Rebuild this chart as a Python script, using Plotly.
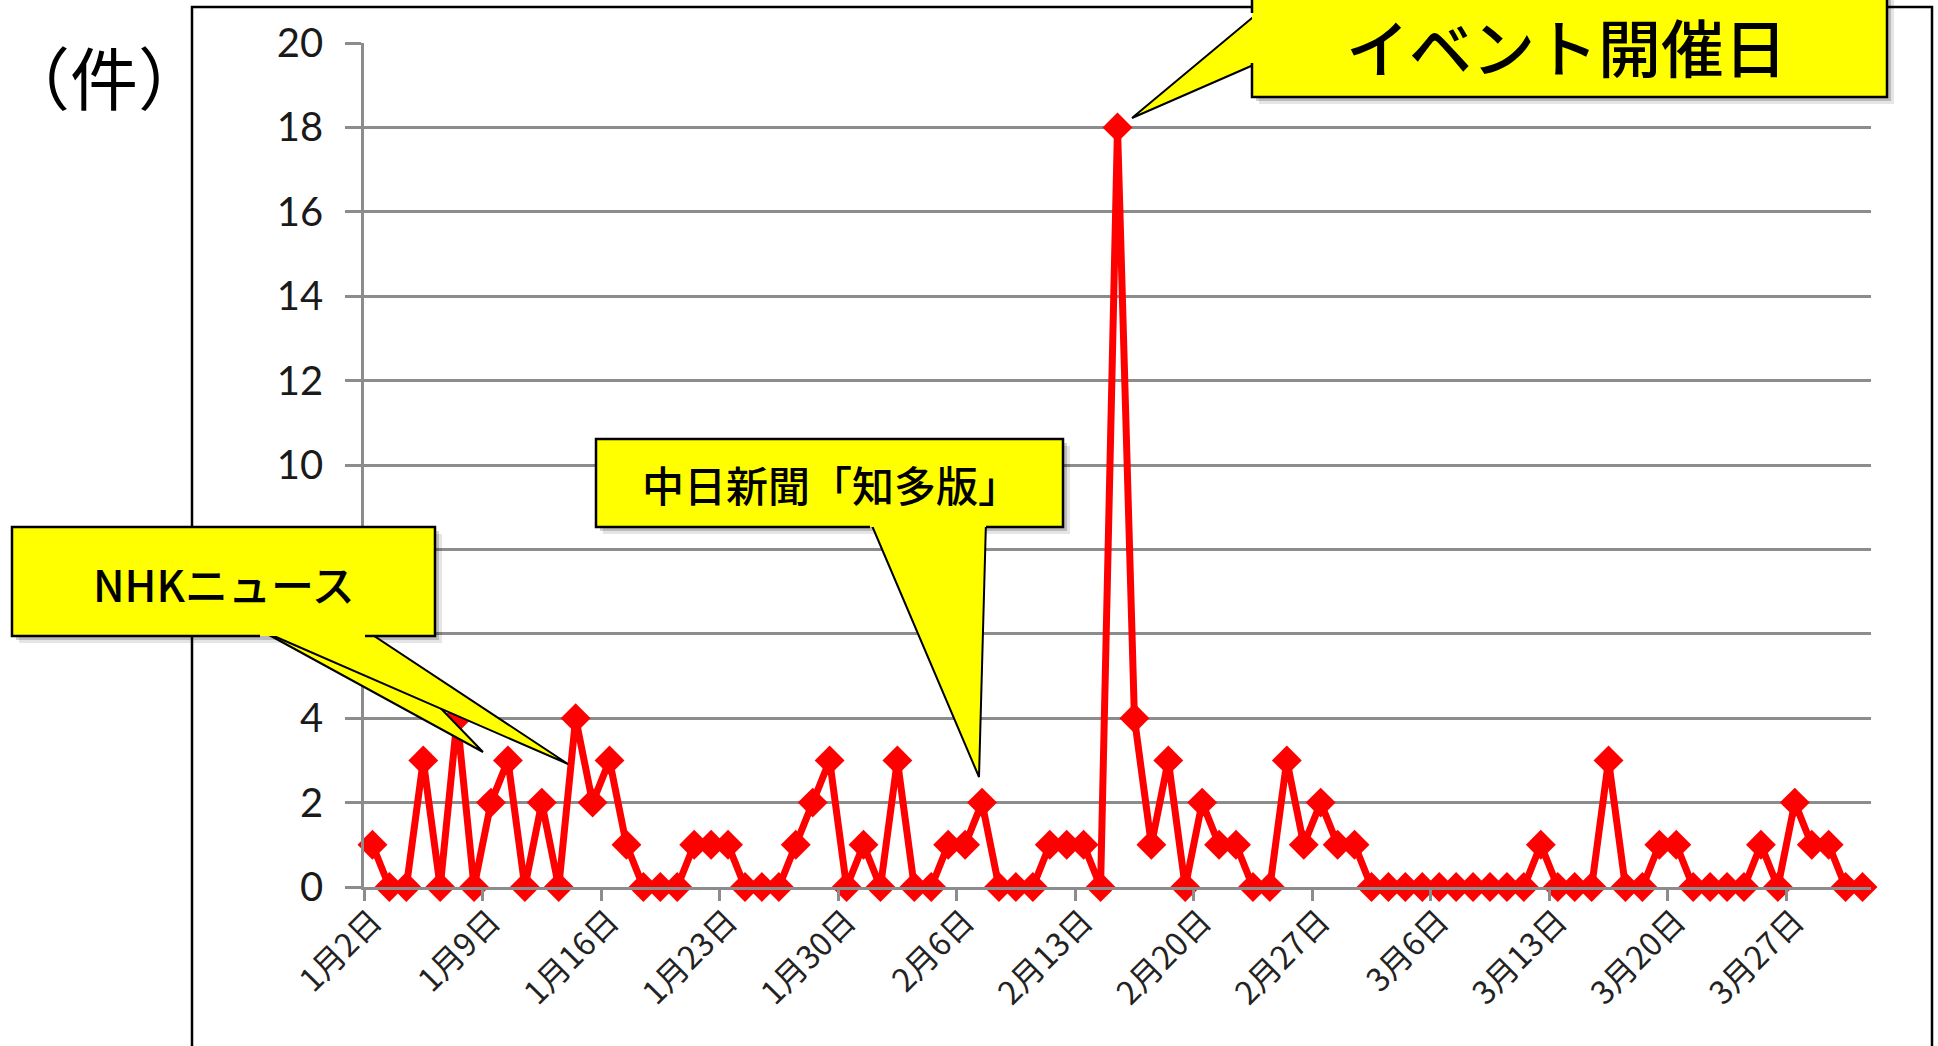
import plotly.graph_objects as go
import pandas as pd

# ---- data ----
start_date = "2011-01-02"
end_date = "2011-03-31"
jan_counts = [1, 0, 0, 3, 0, 4, 0, 2, 3, 0, 2, 0, 4, 2, 3, 1, 0, 0, 0, 1,
              1, 1, 0, 0, 0, 1, 2, 3, 0, 1]                      # Jan 2 - Jan 31
feb_counts = [0, 3, 0, 0, 1, 1, 2, 0, 0, 0, 1, 1, 1, 0, 18, 4, 1, 3, 0, 2,
              1, 1, 0, 0, 3, 1, 2, 1]                            # Feb 1 - Feb 28
mar_counts = [1, 0, 0, 0, 0, 0, 0, 0, 0, 0, 0, 1, 0, 0, 0, 3, 0, 0, 1, 1,
              0, 0, 0, 0, 1, 0, 2, 1, 1, 0, 0]                   # Mar 1 - Mar 31
y_tick_values = [0, 2, 4, 6, 8, 10, 12, 14, 16, 18, 20]
unit_label = "（件）"
callout_event = "イベント開催日"
callout_chunichi = "中日新聞「知多版」"
callout_nhk = "NHKニュース"

dates = pd.date_range(start_date, end_date, freq="D")
counts = jan_counts + feb_counts + mar_counts
label_dates = dates[::7]
label_text = [f"{d.month}月{d.day}日" for d in label_dates]

# ---- layout geometry (pixels) ----
W, H = 1938, 1046
X0, X1 = 364, 1871
YB, YT = 887, 43


def px(x):
    return (x - X0) / (X1 - X0)


def py(y):
    return (YB - y) / (YB - YT)


def path(points, close=True):
    s = "M " + " L ".join(f"{px(x):.5f},{py(y):.5f}" for x, y in points)
    return s + (" Z" if close else "")


YELLOW = "#ffff00"
shapes = []


def rect(x0, y0, x1, y1, **kw):
    shapes.append(dict(type="rect", xref="paper", yref="paper",
                       x0=px(x0), x1=px(x1), y0=py(y1), y1=py(y0), **kw))


def poly(points, close=True, **kw):
    shapes.append(dict(type="path", xref="paper", yref="paper",
                       path=path(points, close), **kw))


def shadow(x0, y0, x1, y1):
    rect(x0 + 7, y0 + 7, x1 + 7, y1 + 7, fillcolor="rgba(0,0,0,0.10)", line=dict(width=0))
    rect(x0 + 4, y0 + 4, x1 + 4, y1 + 4, fillcolor="rgba(0,0,0,0.18)", line=dict(width=0))


wedge_style = dict(fillcolor=YELLOW, line=dict(color="black", width=2))
border_style = dict(line=dict(color="black", width=2.5))

# outer frame
rect(192, 7, 1932, 1080, line=dict(color="black", width=2.5), fillcolor="rgba(0,0,0,0)")

# NHK callout
shadow(12, 527, 435, 636)
poly([(260, 630), (483, 752), (365, 630)], **wedge_style)
poly([(260, 630), (568, 764), (365, 630)], **wedge_style)
rect(12, 527, 435, 636, fillcolor=YELLOW, line=dict(width=0))
poly([(260, 636), (12, 636), (12, 527), (435, 527), (435, 636), (365, 636)], close=False, **border_style)

# Chunichi callout
shadow(596, 439, 1063, 527)
poly([(870, 521), (979, 777), (986, 521)], **wedge_style)
rect(596, 439, 1063, 527, fillcolor=YELLOW, line=dict(width=0))
poly([(870, 527), (596, 527), (596, 439), (1063, 439), (1063, 527), (986, 527)], close=False, **border_style)

# Event callout
shadow(1252, -20, 1887, 97)
poly([(1258, 13), (1132, 118), (1258, 63)], **wedge_style)
rect(1252, -20, 1887, 97, fillcolor=YELLOW, line=dict(width=0))
poly([(1252, 13), (1252, -20), (1887, -20), (1887, 97), (1252, 97), (1252, 63)], close=False, **border_style)

CJK = "Noto Sans CJK JP"
annotations = [
    dict(text=unit_label, x=px(104), y=py(76), font=dict(family=CJK, size=68, color="black")),
    dict(text=callout_event, x=px(1566), y=py(45), font=dict(family=CJK, size=63, color="black", weight=500)),
    dict(text=callout_chunichi, x=px(831), y=py(483), font=dict(family=CJK, size=42, color="black", weight=500)),
    dict(text=callout_nhk, x=px(224), y=py(583), font=dict(family=CJK, size=43, color="black", weight=500)),
]
for a in annotations:
    a.update(xref="paper", yref="paper", showarrow=False, xanchor="center", yanchor="middle")

fig = go.Figure()
fig.add_trace(go.Scatter(
    x=dates, y=counts, mode="lines+markers",
    line=dict(color="#ff0000", width=7),
    marker=dict(symbol="diamond", size=23, color="#ff0000"),
    cliponaxis=False, showlegend=False,
))

half_day = pd.Timedelta(hours=12)
fig.update_layout(
    width=W, height=H,
    margin=dict(l=X0, r=W - X1, t=YT, b=H - YB, pad=0),
    paper_bgcolor="white", plot_bgcolor="white",
    shapes=shapes, annotations=annotations,
    xaxis=dict(
        type="date",
        range=[dates[0] - half_day, dates[-1] + half_day],
        tickmode="array", tickvals=list(label_dates), ticktext=label_text,
        tickangle=-45, ticks="", showgrid=False, zeroline=False,
        showline=True, linecolor="#8c8c8c", linewidth=2.5,
        tickfont=dict(family=CJK, size=32, color="#222222"),
        minor=dict(tick0=dates[0] - half_day, dtick=7 * 86400000,
                   ticks="outside", ticklen=11, tickwidth=2.5, tickcolor="#8c8c8c",
                   showgrid=False),
    ),
    yaxis=dict(
        range=[0, 20], tickmode="array", tickvals=y_tick_values,
        showgrid=True, gridcolor="#8c8c8c", gridwidth=2.5,
        ticks="outside", ticklen=16, tickwidth=2.5, tickcolor="#8c8c8c",
        showline=True, linecolor="#8c8c8c", linewidth=2.5, zeroline=False,
        tickfont=dict(family="Lato", size=40, color="#1a1a1a"),
        ticklabelstandoff=14,
    ),
)

fig.write_html("out.html")
